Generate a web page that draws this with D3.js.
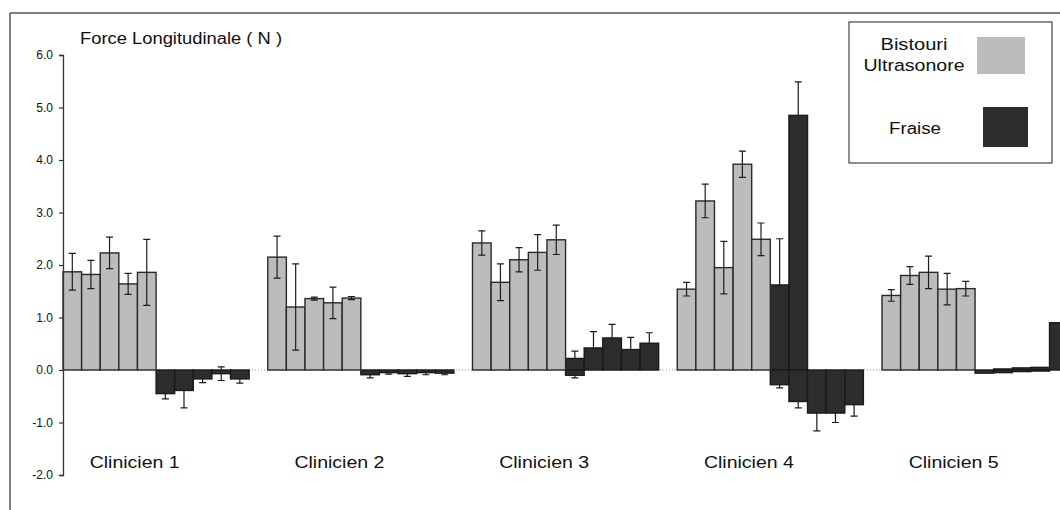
<!DOCTYPE html>
<html>
<head>
<meta charset="utf-8">
<script src="https://cdn.jsdelivr.net/npm/d3@7"></script>
<style>
  html, body { margin: 0; padding: 0; background: #fff; }
  svg { display: block; font-family: "Liberation Sans", Arial, sans-serif; }
</style>
</head>
<body>
<svg id="chart" width="1060" height="510"></svg>
<script>
// ---------- data ----------
const categories = ["Clinicien 1", "Clinicien 2", "Clinicien 3", "Clinicien 4", "Clinicien 5"];
const yTicks = [-2, -1, 0, 1, 2, 3, 4, 5, 6];
const seriesNames = ["Bistouri Ultrasonore", "Fraise"];

// Bistouri Ultrasonore: 5 essais par clinicien
const bistouriMean = [
  [1.87, 1.82, 2.23, 1.64, 1.86],
  [2.15, 1.20, 1.36, 1.28, 1.37],
  [2.42, 1.67, 2.10, 2.24, 2.48],
  [1.54, 3.22, 1.95, 3.92, 2.49],
  [1.42, 1.80, 1.86, 1.54, 1.55]
];
const bistouriErr = [
  [0.35, 0.27, 0.30, 0.20, 0.63],
  [0.40, 0.82, 0.03, 0.30, 0.03],
  [0.23, 0.35, 0.23, 0.34, 0.28],
  [0.13, 0.32, 0.50, 0.25, 0.31],
  [0.11, 0.17, 0.31, 0.30, 0.14]
];
// Fraise: composantes positives et negatives
const fraisePos = [
  [0, 0, 0, 0, 0],
  [0, 0, 0, 0, 0],
  [0.22, 0.42, 0.61, 0.39, 0.51],
  [1.62, 4.85, 0, 0, 0],
  [0, 0.02, 0.04, 0.05, 0.90]
];
const fraisePosErr = [
  [0, 0, 0, 0, 0],
  [0, 0, 0, 0, 0],
  [0.14, 0.31, 0.26, 0.23, 0.20],
  [0.88, 0.64, 0, 0, 0],
  [0, 0, 0, 0, 0]
];
const fraiseNeg = [
  [-0.45, -0.39, -0.17, -0.07, -0.17],
  [-0.09, -0.05, -0.07, -0.05, -0.06],
  [-0.10, 0, 0, 0, 0],
  [-0.28, -0.60, -0.82, -0.82, -0.66],
  [-0.06, -0.05, -0.03, -0.02, 0]
];
const fraiseNegErr = [
  [0.10, 0.33, 0.07, 0.13, 0.08],
  [0.06, 0.03, 0.05, 0.04, 0.03],
  [0.05, 0, 0, 0, 0],
  [0.06, 0.12, 0.34, 0.18, 0.22],
  [0, 0, 0, 0, 0]
];

// ---------- layout ----------
const svg = d3.select("#chart");
const LIGHT = "#bcbcbc", DARK = "#2d2d2d";

const x0 = d3.scaleBand().domain(categories).range([63, 63 + 5 * 204.75]);
const x1 = d3.scaleBand().domain(d3.range(11)).range([0, x0.bandwidth()]);
const y = d3.scaleLinear().domain([-2, 6]).range([475, 55]);

// frame
svg.append("line").attr("x1", 10).attr("x2", 1060).attr("y1", 13).attr("y2", 13)
  .attr("stroke", "#555").attr("stroke-width", 1.5);
svg.append("line").attr("x1", 10).attr("x2", 10).attr("y1", 13).attr("y2", 510)
  .attr("stroke", "#555").attr("stroke-width", 1.5);

// zero baseline
svg.append("line").attr("x1", 63).attr("x2", 1060).attr("y1", y(0)).attr("y2", y(0))
  .attr("stroke", "#999").attr("stroke-width", 1).attr("stroke-dasharray", "1,2");

// build bar records
const bars = [];
categories.forEach((cat, gi) => {
  for (let i = 0; i < 5; i++) {
    bars.push({cat, slot: i, v: bistouriMean[gi][i], e: bistouriErr[gi][i], s: 0});
    if (fraisePos[gi][i] !== 0) bars.push({cat, slot: 5 + i, v: fraisePos[gi][i], e: fraisePosErr[gi][i], s: 1});
    if (fraiseNeg[gi][i] !== 0) bars.push({cat, slot: 5 + i, v: fraiseNeg[gi][i], e: fraiseNegErr[gi][i], s: 1});
  }
});

const cx = d => x0(d.cat) + x1(d.slot) + x1.bandwidth() / 2;
const errPath = d => {
  const c = cx(d), t = y(d.v + d.e), b = y(d.v - d.e), w = 3.5;
  return `M${c},${t}V${b}M${c - w},${t}H${c + w}M${c - w},${b}H${c + w}`;
};

// dark-series whiskers drawn beneath the bars (inner half hidden)
svg.append("g").attr("stroke", "#1a1a1a").attr("stroke-width", 1.2).attr("fill", "none")
  .selectAll("path").data(bars.filter(d => d.s === 1 && d.e > 0)).join("path")
  .attr("d", errPath);

const gBars = svg.append("g");
gBars.selectAll("rect").data(bars).join("rect")
  .attr("x", d => x0(d.cat) + x1(d.slot))
  .attr("width", x1.bandwidth())
  .attr("y", d => y(Math.max(0, d.v)))
  .attr("height", d => Math.abs(y(d.v) - y(0)))
  .attr("fill", d => d.s === 0 ? LIGHT : DARK)
  .attr("stroke", d => d.s === 0 ? "#2a2a2a" : "#1a1a1a")
  .attr("stroke-width", 1.4);

// light-series whiskers on top
svg.append("g").attr("stroke", "#1e1e1e").attr("stroke-width", 1.2).attr("fill", "none")
  .selectAll("path").data(bars.filter(d => d.s === 0 && d.e > 0)).join("path")
  .attr("d", errPath);

// y axis
const axis = d3.axisLeft(y).tickValues(yTicks).tickFormat(d => d.toFixed(1))
  .tickSize(4).tickSizeOuter(4).tickPadding(6);
const gAxis = svg.append("g").attr("transform", "translate(63,0)").call(axis);
gAxis.select(".domain").attr("stroke", "#333").attr("stroke-width", 1.3);
gAxis.selectAll(".tick line").attr("stroke", "#333").attr("stroke-width", 1.2);
gAxis.selectAll(".tick text").attr("font-size", 12).attr("fill", "#111")
  .attr("font-family", "'Liberation Sans', Arial, sans-serif");

// title
svg.append("text").attr("x", 80).attr("y", 44).attr("font-size", 16).attr("fill", "#111")
  .attr("textLength", 202).attr("lengthAdjust", "spacingAndGlyphs")
  .text("Force Longitudinale ( N )");

// clinician labels
svg.append("g").selectAll("text").data(categories).join("text")
  .attr("x", d => x0(d) + x1.bandwidth() * 3.85)
  .attr("y", 468).attr("font-size", 16).attr("fill", "#111")
  .attr("text-anchor", "middle")
  .attr("textLength", 90).attr("lengthAdjust", "spacingAndGlyphs")
  .text(d => d);

// legend
const lg = svg.append("g");
lg.append("rect").attr("x", 849).attr("y", 22).attr("width", 203).attr("height", 141)
  .attr("fill", "#fff").attr("stroke", "#444").attr("stroke-width", 1.2);
lg.append("text").attr("x", 914).attr("y", 50).attr("text-anchor", "middle").attr("font-size", 16)
  .attr("textLength", 67).attr("lengthAdjust", "spacingAndGlyphs").attr("fill", "#111").text("Bistouri");
lg.append("text").attr("x", 914).attr("y", 71).attr("text-anchor", "middle").attr("font-size", 16)
  .attr("textLength", 101).attr("lengthAdjust", "spacingAndGlyphs").attr("fill", "#111").text("Ultrasonore");
lg.append("rect").attr("x", 977).attr("y", 37).attr("width", 48).attr("height", 37).attr("fill", LIGHT);
lg.append("text").attr("x", 915).attr("y", 134).attr("text-anchor", "middle").attr("font-size", 16)
  .attr("textLength", 52).attr("lengthAdjust", "spacingAndGlyphs").attr("fill", "#111").text(seriesNames[1]);
lg.append("rect").attr("x", 983).attr("y", 107).attr("width", 45).attr("height", 40).attr("fill", DARK);
</script>
</body>
</html>
